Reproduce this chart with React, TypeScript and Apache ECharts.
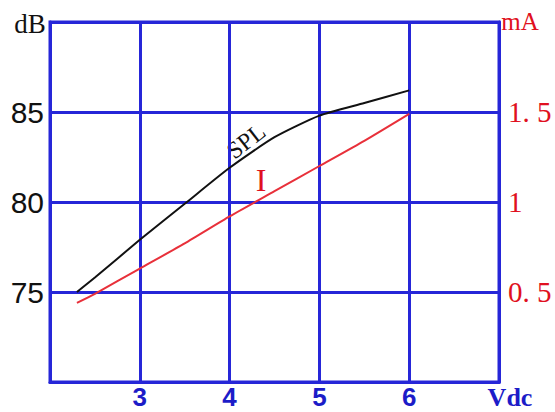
import React, { useEffect, useRef } from "react";
import * as echarts from "echarts";

const voltage = [2.3, 2.5, 3, 3.5, 4, 4.5, 5, 5.5, 6];
const splValues = [75.0, 75.8, 77.9, 79.9, 81.9, 83.6, 84.8, 85.5, 86.2];
const currentValues = [0.44, 0.49, 0.63, 0.77, 0.92, 1.06, 1.2, 1.34, 1.49];
const xTickLabels = [3, 4, 5, 6];
const leftTickLabels = [75, 80, 85];
const rightTickLabels: Record<string, string> = { "0.5": "0. 5", "1": "1", "1.5": "1. 5" };

const BLUE = "#2626d8";
const LABEL_BLUE = "#1c1cc8";
const RED = "#e01020";
const SERIF = "'Liberation Serif', 'DejaVu Serif', serif";
const SANS = "'Liberation Sans Narrow', 'Liberation Sans', sans-serif";

export default function App() {
  const ref = useRef<HTMLDivElement>(null);
  useEffect(() => {
    if (!ref.current) return;
    const chart = echarts.init(ref.current, undefined, { renderer: "svg" });
    chart.setOption({
      animation: false,
      backgroundColor: "#ffffff",
      grid: {
        left: 50,
        top: 22,
        width: 449,
        height: 360,
        show: true,
        borderColor: BLUE,
        borderWidth: 3,
        containLabel: false,
      },
      xAxis: {
        type: "value",
        min: 2,
        max: 7,
        interval: 1,
        axisLine: { show: true, lineStyle: { color: BLUE, width: 3 } },
        axisTick: { show: false },
        splitLine: { show: true, lineStyle: { color: BLUE, width: 3 } },
        axisLabel: {
          margin: 2,
          color: LABEL_BLUE,
          fontSize: 26,
          fontWeight: "bold",
          fontFamily: SANS,
          formatter: (v: number) => (xTickLabels.includes(v) ? String(v) : ""),
        },
      },
      yAxis: [
        {
          type: "value",
          min: 70,
          max: 90,
          interval: 5,
          axisLine: { show: true, lineStyle: { color: BLUE, width: 3 } },
          axisTick: { show: false },
          splitLine: { show: true, lineStyle: { color: BLUE, width: 3 } },
          axisLabel: {
            margin: 6,
            color: "#111111",
            fontSize: 30,
            fontFamily: SANS,
            formatter: (v: number) => (leftTickLabels.includes(v) ? String(v) : ""),
          },
        },
        {
          type: "value",
          min: 0,
          max: 2,
          interval: 0.5,
          position: "right",
          axisLine: { show: true, lineStyle: { color: BLUE, width: 3 } },
          axisTick: { show: false },
          splitLine: { show: false },
          axisLabel: {
            margin: 9,
            color: RED,
            fontSize: 29,
            fontFamily: SERIF,
            formatter: (v: number) => rightTickLabels[String(v)] ?? "",
          },
        },
      ],
      series: [
        {
          name: "SPL",
          type: "line",
          yAxisIndex: 0,
          showSymbol: false,
          smooth: 0.2,
          lineStyle: { color: "#111111", width: 2 },
          data: voltage.map((v, i) => [v, splValues[i]]),
        },
        {
          name: "I",
          type: "line",
          yAxisIndex: 1,
          showSymbol: false,
          smooth: 0.2,
          lineStyle: { color: "#e8303a", width: 2 },
          data: voltage.map((v, i) => [v, currentValues[i]]),
        },
      ],
      graphic: [
        {
          type: "text",
          x: 30,
          y: 24,
          style: { text: "dB", fill: "#111111", font: "27px 'Liberation Serif', serif", align: "center", verticalAlign: "middle" },
        },
        {
          type: "text",
          x: 520,
          y: 21,
          style: { text: "mA", fill: RED, font: "25px 'Liberation Serif', serif", align: "center", verticalAlign: "middle" },
        },
        {
          type: "text",
          x: 510,
          y: 397,
          style: { text: "Vdc", fill: LABEL_BLUE, font: "bold 26px 'Liberation Serif', serif", align: "center", verticalAlign: "middle" },
        },
        {
          type: "text",
          x: 246,
          y: 141,
          rotation: 0.66,
          style: { text: "SPL", fill: "#111111", font: "24px 'Liberation Serif', serif", align: "center", verticalAlign: "middle" },
        },
        {
          type: "text",
          x: 261,
          y: 180,
          style: { text: "I", fill: RED, font: "32px 'Liberation Serif', serif", align: "center", verticalAlign: "middle" },
        },
      ],
    });
    return () => chart.dispose();
  }, []);
  return <div ref={ref} style={{ position: "absolute", left: 0, top: 0, width: 555, height: 412 }} />;
}
